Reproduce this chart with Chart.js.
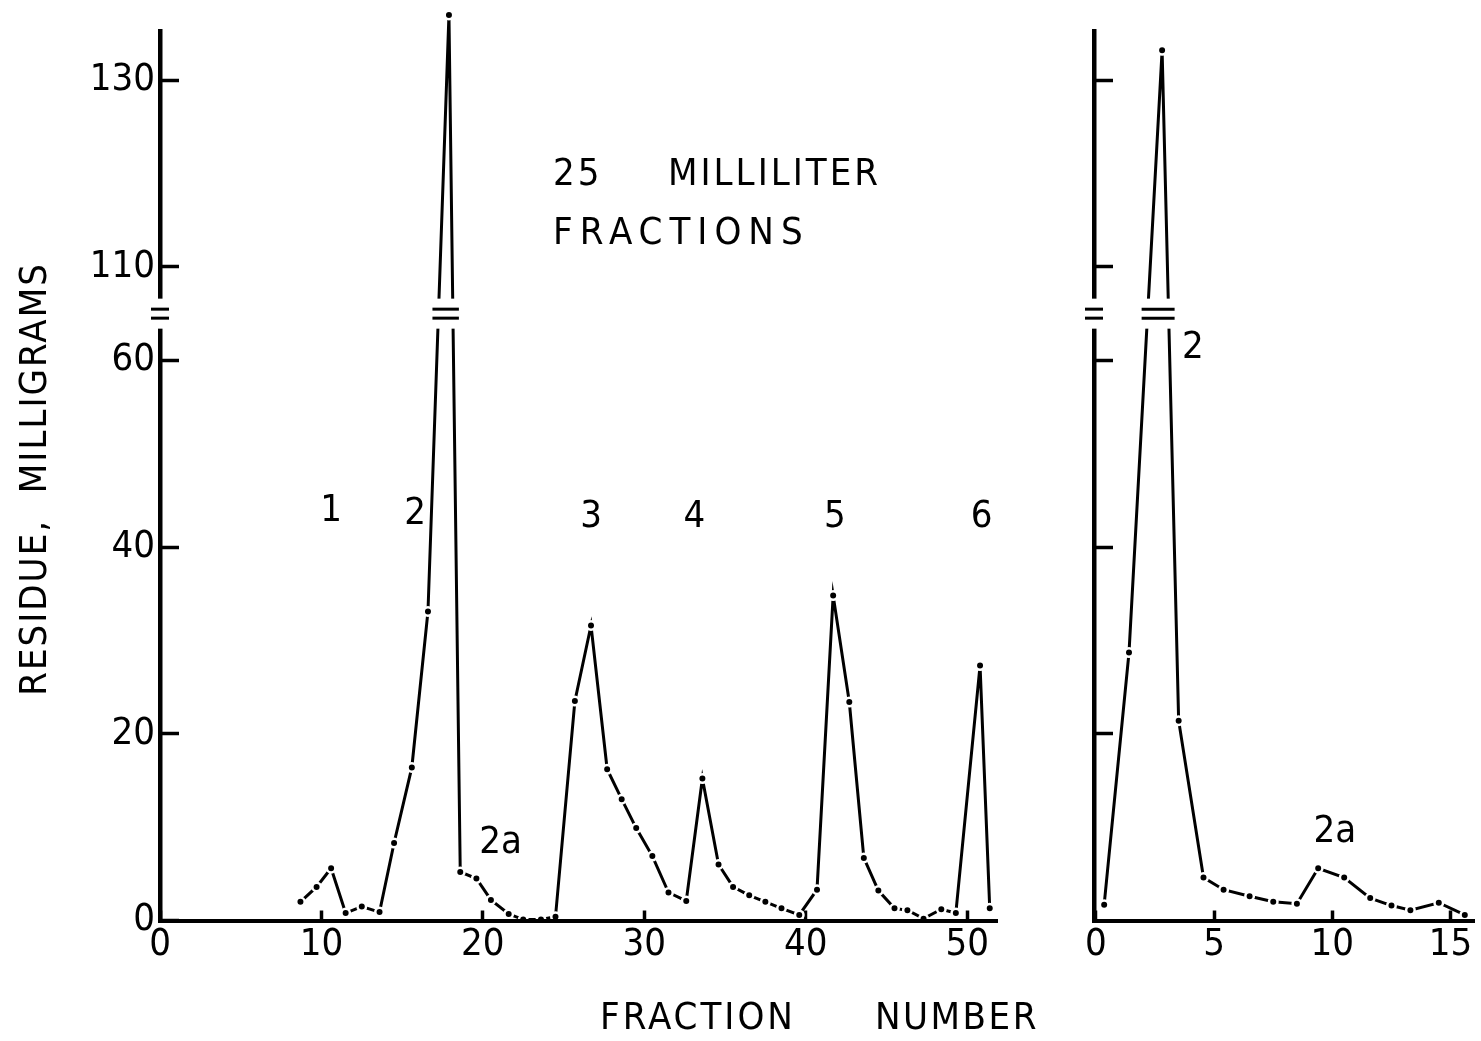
<!DOCTYPE html>
<html>
<head>
<meta charset="utf-8">
<script src="https://cdn.jsdelivr.net/npm/chart.js@4.4.1/dist/chart.umd.min.js"></script>
<style>
  html, body { margin: 0; padding: 0; background: #fff; }
  #wrap { position: relative; width: 1481px; height: 1041px; overflow: hidden; background: #fff; }
  #wrap canvas { position: absolute; left: 0; top: 0; }
</style>
</head>
<body>
<div id="wrap">
  <canvas id="elution" width="1481" height="1041"></canvas>
  <canvas id="rerun" width="1481" height="1041"></canvas>
</div>
<script>
// Residue (mg) in each 25 ml fraction: full elution (left) and re-chromatographed peak 2 (right)
const elutionFraction = [8.7, 9.7, 10.6, 11.5, 12.5, 13.6, 14.5, 15.6, 16.6, 17.9,
  18.6, 19.6, 20.5, 21.6, 22.5, 23.6, 24.5, 25.7, 26.7, 27.7,
  28.6, 29.5, 30.5, 31.5, 32.6, 33.6, 34.6, 35.5, 36.5, 37.5,
  38.5, 39.6, 40.7, 41.7, 42.7, 43.6, 44.5, 45.5, 46.3, 47.3,
  48.4, 49.3, 50.8, 51.4];
const elutionResidue = [2.0, 3.6, 5.6, 0.8, 1.5, 0.9, 8.3, 16.4, 33.1, 137,
  5.2, 4.5, 2.2, 0.7, 0.1, 0.1, 0.4, 23.5, 31.6, 16.2,
  13.0, 9.9, 6.9, 3.0, 2.1, 15.2, 6.0, 3.6, 2.7, 2.0,
  1.3, 0.6, 3.3, 34.8, 23.4, 6.7, 3.2, 1.3, 1.1, 0.2,
  1.2, 0.8, 27.3, 1.3];

const rerunFraction = [0.35, 1.4, 2.8, 3.5, 4.55, 5.4, 6.5, 7.5, 8.5, 9.4, 10.5, 11.6, 12.5, 13.3, 14.5, 15.6];
const rerunResidue = [1.7, 28.7, 133.2, 21.4, 4.6, 3.3, 2.6, 2.0, 1.8, 5.6, 4.6, 2.4, 1.6, 1.1, 1.9, 0.6];

const elutionXTicks = [0, 10, 20, 30, 40, 50];
const rerunXTicks = [0, 5, 10, 15];
const elutionYTicks = [0, 20, 40, 60, 110, 130];
const rerunYTicks = [20, 40, 60, 110, 130];

// peak names, anchored in (fraction, residue) units
const elutionPeakNames = ['1', '2', '3', '4', '5', '6', '2a'];
const elutionPeakAt = [[10.6, 43.8], [15.8, 43.5], [26.7, 43.2], [33.1, 43.2], [41.8, 43.2], [50.9, 43.2], [21.1, 8.3]];
const rerunPeakNames = ['2', '2a'];
const rerunPeakAt = [[4.1, 61.3], [10.1, 9.5]];

// broken residue axis: 65..105 mg is cut out
const CUT_FROM = 65, CUT_TO = 105;
const toAxis = v => (v <= CUT_FROM ? v : v - (CUT_TO - CUT_FROM));
const fromAxis = v => (v <= CUT_FROM ? v : v + (CUT_TO - CUT_FROM));
const Y_TOP = toAxis(135.2);

const FONT = 'DejaVu Sans Condensed';
const INK = '#000';

// lets the tall peak tips rise above the axis top
const overflowMarks = {
  id: 'overflowMarks',
  beforeDatasetsDraw(chart) { chart.$savedTop = chart.chartArea.top; chart.chartArea.top = 0; },
  afterDatasetsDraw(chart) { chart.chartArea.top = chart.$savedTop; }
};

// white gap and "=" marks where the residue axis is broken
const axisBreak = {
  id: 'axisBreak',
  afterDraw(chart) {
    const { ctx, chartArea, scales: { x, y } } = chart;
    const yc = y.getPixelForValue(CUT_FROM);
    ctx.save();
    ctx.fillStyle = '#fff';
    ctx.fillRect(chartArea.left - 12, yc - 15, chartArea.right - chartArea.left + 12, 30);
    const pairs = [[chartArea.left - 9, chartArea.left + 9]];
    const pts = chart.data.datasets[0].data;
    const cross = [];
    for (let i = 1; i < pts.length; i++) {
      const a = pts[i - 1], b = pts[i];
      if ((a.y - CUT_FROM) * (b.y - CUT_FROM) < 0) {
        const t = (CUT_FROM - a.y) / (b.y - a.y);
        cross.push(x.getPixelForValue(a.x + t * (b.x - a.x)));
      }
    }
    for (let i = 0; i + 1 < cross.length; i += 2) pairs.push([cross[i] - 6, cross[i + 1] + 6]);
    ctx.strokeStyle = INK;
    ctx.lineWidth = 3;
    ctx.lineCap = 'butt';
    pairs.forEach(([l, r]) => {
      [-4.5, 4.5].forEach(d => {
        ctx.beginPath(); ctx.moveTo(l, yc + d); ctx.lineTo(r, yc + d); ctx.stroke();
      });
    });
    ctx.restore();
  }
};

// peak names and free captions
const captions = {
  id: 'captions',
  afterDraw(chart, args, opts) {
    const { ctx, scales: { x, y } } = chart;
    ctx.save();
    ctx.fillStyle = INK;
    ctx.textBaseline = 'middle';
    ctx.font = `38px "${FONT}"`;
    ctx.textAlign = 'center';
    (opts.names || []).forEach((name, i) => {
      const [fx, fy] = opts.at[i];
      ctx.fillText(name, x.getPixelForValue(fx), y.getPixelForValue(toAxis(fy)));
    });
    ctx.textAlign = 'left';
    (opts.free || []).forEach(t => {
      ctx.save();
      ctx.letterSpacing = (t.spacing || 0) + 'px';
      ctx.font = `${t.size || 38}px "${FONT}"`;
      ctx.translate(t.x, t.y);
      if (t.rotate) { ctx.rotate(t.rotate); ctx.textAlign = 'center'; }
      ctx.fillText(t.text, 0, 0);
      ctx.restore();
    });
    ctx.restore();
  }
};

// keep the plot area exactly where the layout padding puts it
const noLabelOverhang = s => {
  s.paddingTop = 0; s.paddingBottom = 0; s.paddingLeft = 0; s.paddingRight = 0;
};

function panel(canvasId, fractions, residues, xTicks, yTicks, xMin, xMax, area, showYLabels, names, at, free) {
  return new Chart(document.getElementById(canvasId), {
    type: 'line',
    data: {
      datasets: [{
        data: fractions.map((f, i) => ({ x: f, y: toAxis(residues[i]) })),
        borderColor: INK,
        borderWidth: 3,
        tension: 0,
        fill: false,
        clip: false,
        pointRadius: 4.25,
        pointBorderWidth: 2.5,
        pointBackgroundColor: INK,
        pointBorderColor: '#fff'
      }]
    },
    options: {
      responsive: false,
      devicePixelRatio: 1,
      animation: false,
      events: [],
      layout: { padding: { left: 0, top: area.top, right: 1481 - area.right, bottom: 0 } },
      plugins: {
        legend: { display: false },
        tooltip: { enabled: false },
        captions: { names, at, free }
      },
      scales: {
        x: {
          type: 'linear',
          min: xMin,
          max: xMax,
          afterBuildTicks: s => { s.ticks = xTicks.map(v => ({ value: v })); },
          afterFit: s => { s.height = 1041 - area.bottom; noLabelOverhang(s); },
          grid: { drawOnChartArea: false, drawTicks: true, tickLength: -10, tickWidth: 3.5, tickColor: INK },
          border: { display: true, color: INK, width: 4, z: 1 },
          ticks: {
            autoSkip: false, maxRotation: 0, color: INK, padding: 16,
            font: { family: FONT, size: 38, lineHeight: 1 },
            callback: v => String(v)
          }
        },
        y: {
          type: 'linear',
          min: 0,
          max: Y_TOP,
          afterBuildTicks: s => { s.ticks = yTicks.map(v => ({ value: toAxis(v) })); },
          afterFit: s => { s.width = area.left; noLabelOverhang(s); },
          grid: { drawOnChartArea: false, drawTicks: true, tickLength: -19, tickWidth: 3.5, tickColor: INK },
          border: { display: true, color: INK, width: 4.5, z: 1 },
          ticks: {
            display: showYLabels, color: INK, padding: 24,
            font: { family: FONT, size: 38, lineHeight: 1 },
            callback: v => String(Math.round(fromAxis(v)))
          }
        }
      }
    },
    plugins: [overflowMarks, axisBreak, captions]
  });
}

panel('elution', elutionFraction, elutionResidue, elutionXTicks, elutionYTicks, 0, 51.85,
  { left: 160, right: 997, top: 31.7, bottom: 920.5 }, true,
  elutionPeakNames, elutionPeakAt,
  [
    { text: '25', x: 553, y: 175, spacing: 3 },
    { text: 'MILLILITER', x: 668, y: 175, spacing: 3 },
    { text: 'FRACTIONS', x: 553, y: 234, spacing: 7 },
    { text: 'FRACTION', x: 600, y: 1019, spacing: 3 },
    { text: 'NUMBER', x: 875, y: 1019, spacing: 2.5 },
    { text: 'RESIDUE,  MILLIGRAMS', x: 36, y: 479, spacing: 2, rotate: -Math.PI / 2 }
  ]);

panel('rerun', rerunFraction, rerunResidue, rerunXTicks, rerunYTicks, -0.08, 16.0,
  { left: 1094, right: 1477, top: 31.7, bottom: 920.5 }, false,
  rerunPeakNames, rerunPeakAt, []);
</script>
</body>
</html>
